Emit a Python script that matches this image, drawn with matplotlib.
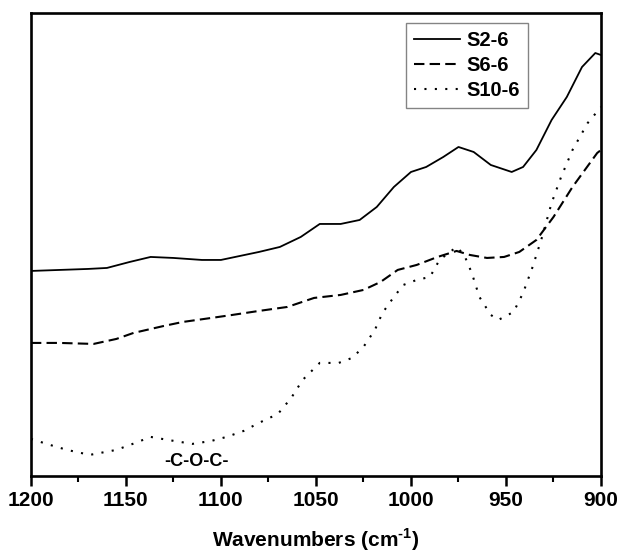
import numpy as np
import matplotlib
matplotlib.use("Agg")
import matplotlib.pyplot as plt
from matplotlib.ticker import MultipleLocator

plt.rcParams['font.family'] = ['Liberation Sans', 'DejaVu Sans']
plt.rcParams['mathtext.fontset'] = 'custom'
plt.rcParams['mathtext.bf'] = 'Liberation Sans:bold'
plt.rcParams['mathtext.rm'] = 'Liberation Sans:bold'

# wavenumber (cm-1) / absorbance (arb. units)
wn_s2 = [1200, 1185, 1170, 1160, 1148, 1137, 1125, 1110, 1100, 1090, 1080, 1069,
         1058, 1048, 1037, 1027, 1018, 1009, 1000, 992, 983, 975, 967, 958,
         947, 941, 934, 926, 918, 910, 903, 900]
ab_s2 = [205, 206, 207, 208, 214, 219, 218, 216, 216, 220, 224, 229,
         239, 252, 252, 256, 269, 289, 304, 309, 319, 329, 324, 311,
         304, 309, 326, 356, 379, 409, 423, 421]

wn_s6 = [1200, 1185, 1167, 1155, 1146, 1130, 1120, 1105, 1094, 1080, 1065, 1051,
         1037, 1025, 1016, 1007, 997, 986, 976, 969, 960, 951, 943, 934,
         925, 915, 902, 900]
ab_s6 = [133, 133, 132, 137, 143, 150, 154, 158, 161, 165, 169, 178,
         181, 186, 194, 206, 211, 219, 225, 221, 218, 219, 224, 236,
         259, 289, 323, 326]

wn_s10 = [1200, 1190, 1181, 1169, 1155, 1145, 1137, 1128, 1115, 1105, 1097, 1088,
          1080, 1070, 1063, 1057, 1048, 1038, 1031, 1025, 1019, 1015, 1009, 1004,
          997, 990, 985, 976, 972, 968, 964, 958, 954, 946, 941, 936,
          931, 926, 921, 915, 907, 900]
ab_s10 = [37, 31, 26, 21, 26, 33, 39, 36, 32, 35, 39, 45,
          53, 62, 78, 96, 113, 113, 118, 129, 146, 163, 179, 191,
          196, 199, 216, 229, 221, 203, 179, 161, 156, 164, 183, 209,
          239, 273, 299, 326, 353, 369]

labels = ['S2-6', 'S6-6', 'S10-6']

fig = plt.figure(figsize=(6.18, 5.54), dpi=100)
ax = fig.add_axes([0.050, 0.141, 0.9225, 0.8355])

ax.plot(wn_s2, ab_s2, color='black', lw=1.3, ls='-', label=labels[0])
ax.plot(wn_s6, ab_s6, color='black', lw=1.5, ls=(0, (5, 2.5)), label=labels[1])
ax.plot(wn_s10, ab_s10, color='black', lw=1.5, ls=(0, (1, 4)), label=labels[2])

ax.set_xlim(1200, 900)
ax.set_ylim(0, 463)
ax.xaxis.set_major_locator(MultipleLocator(50))
ax.xaxis.set_minor_locator(MultipleLocator(25))
ax.tick_params(axis='x', which='major', direction='out', length=7, width=1.8,
               labelsize=15, pad=4)
ax.tick_params(axis='x', which='minor', direction='out', length=4, width=1.5)
ax.set_yticks([])
for lbl in ax.get_xticklabels():
    lbl.set_fontweight('bold')
for sp in ax.spines.values():
    sp.set_linewidth(1.9)

ax.set_xlabel('Wavenumbers (cm$^{\\mathrm{\\text{-}1}}$)', fontsize=15,
              fontweight='bold', labelpad=12)

ax.text(1113, 14, '-C-O-C-', fontsize=13, fontweight='bold', ha='center', va='center')

leg = ax.legend(loc='upper right', bbox_to_anchor=(0.872, 0.978), borderaxespad=0,
                fancybox=False, edgecolor='#666666', handlelength=2.3,
                prop={'weight': 'bold', 'size': 14.5}, labelspacing=0.3,
                handletextpad=0.3, borderpad=0.4)
leg.get_frame().set_linewidth(1.0)

fig.savefig('out.png', dpi=100)
